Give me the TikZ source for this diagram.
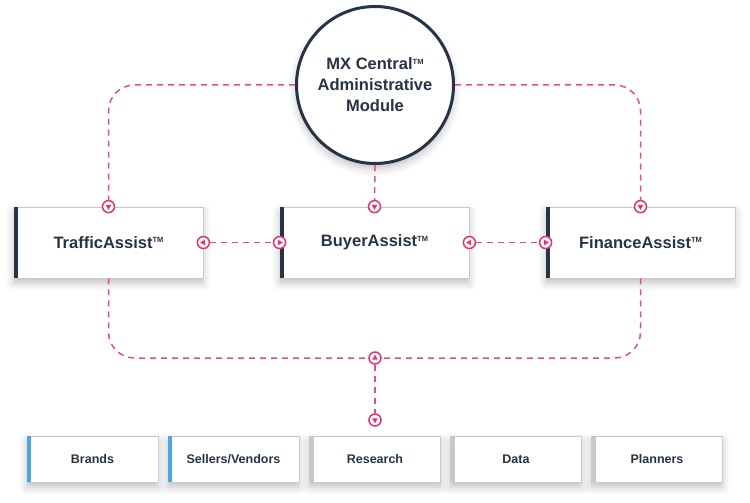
\documentclass[tikz,border=0pt]{standalone}
\usepackage{fontspec}
\setmainfont{Liberation Sans}
\usetikzlibrary{shapes.geometric,shadows.blur}
\definecolor{navy}{HTML}{263445}
\definecolor{pinkc}{HTML}{E8306E}
\definecolor{pinkd}{HTML}{EC4A80}
\definecolor{boxline}{HTML}{C9C9C9}
\definecolor{bluebar}{HTML}{4DA6DF}
\definecolor{graybar}{HTML}{C8C8C8}
\newcommand{\tmk}{\raisebox{0.62ex}{\fontsize{7.5}{7.5}\selectfont TM}}
\tikzset{
  shad/.style={blur shadow={shadow xshift=0pt, shadow yshift=-5pt, shadow blur radius=8pt, shadow opacity=25}},
  topbox/.style={draw=boxline, line width=0.8pt, fill=white, minimum width=189pt, minimum height=71pt, inner sep=0pt, text=navy, font=\bfseries\fontsize{16.5}{19}\selectfont, shad},
  botbox/.style={draw=boxline, line width=0.8pt, fill=white, minimum width=131pt, minimum height=46pt, inner sep=0pt, text=navy, font=\bfseries\fontsize{12.5}{15}\selectfont, shad},
  circ/.style={circle, draw=navy, line width=3pt, fill=white, minimum size=157pt, inner sep=0pt, align=center, text=navy, font=\bfseries\fontsize{16.5}{21}\selectfont, shad},
  conn/.style={draw=pinkd, line width=1.5pt, dash pattern=on 6pt off 5pt},
  mk/.style={circle, draw=pinkc, line width=1.5pt, fill=white, minimum size=12pt, inner sep=0pt},
  tri/.style={regular polygon, regular polygon sides=3, fill=pinkc, minimum size=6.5pt, inner sep=0pt},
}
\newcommand{\mkr}[3]{\node[mk] (#1) at #2 {};\node[tri, rotate=#3] at (#1.center) {};}
\begin{document}
\begin{tikzpicture}[x=1pt,y=-1pt]
\useasboundingbox (0,0) rectangle (750,503);
% circle
\node[circ] (mx) at (375,85) {MX Central\tmk\\Administrative\\Module};
% top boxes
\node[topbox] (ta) at (108.5,242.5) {TrafficAssist\tmk};
\node[topbox] (ba) at (374.5,242.5) {BuyerAssist\tmk};
\node[topbox] (fa) at (640.5,242.5) {FinanceAssist\tmk};
\foreach \b in {ta,ba,fa}{\fill[navy] (\b.north west) rectangle ([xshift=4.5pt]\b.south west);}
% bottom boxes
\node[botbox] (br) at (92.5,459) {Brands};
\node[botbox] (sv) at (233.5,459) {Sellers/Vendors};
\node[botbox] (re) at (375,459) {Research};
\node[botbox] (da) at (516,459) {Data};
\node[botbox] (pl) at (657,459) {Planners};
\foreach \b in {br,sv}{\fill[bluebar] ([shift={(0.4pt,-0.4pt)}]\b.north west) rectangle ([shift={(4.5pt,0.4pt)}]\b.south west);}
\foreach \b in {re,da,pl}{\fill[graybar] ([shift={(0.4pt,-0.4pt)}]\b.north west) rectangle ([shift={(4.5pt,0.4pt)}]\b.south west);}
% markers
\mkr{m1}{(ta.north)}{180}
\mkr{m2}{(ba.north)}{180}
\mkr{m3}{(fa.north)}{180}
\mkr{m4}{(ta.east)}{90}
\mkr{m5}{(ba.west)}{-90}
\mkr{m6}{(ba.east)}{90}
\mkr{m7}{(fa.west)}{-90}
\coordinate (jn) at (375,358);
\mkr{m8}{(jn)}{0}
\mkr{m9}{(375,420)}{180}
% connectors
\draw[conn, rounded corners=26pt] (mx.west) -| (m1);
\draw[conn, rounded corners=26pt] (mx.east) -| (m3);
\draw[conn] (mx.south) -- (m2);
\draw[conn] (m4) -- (m5);
\draw[conn] (m6) -- (m7);
\draw[conn, rounded corners=26pt] (ta.south) |- (m8);
\draw[conn, rounded corners=26pt] (fa.south) |- (m8);
\draw[conn] (m8) -- (m9);
\end{tikzpicture}
\end{document}
